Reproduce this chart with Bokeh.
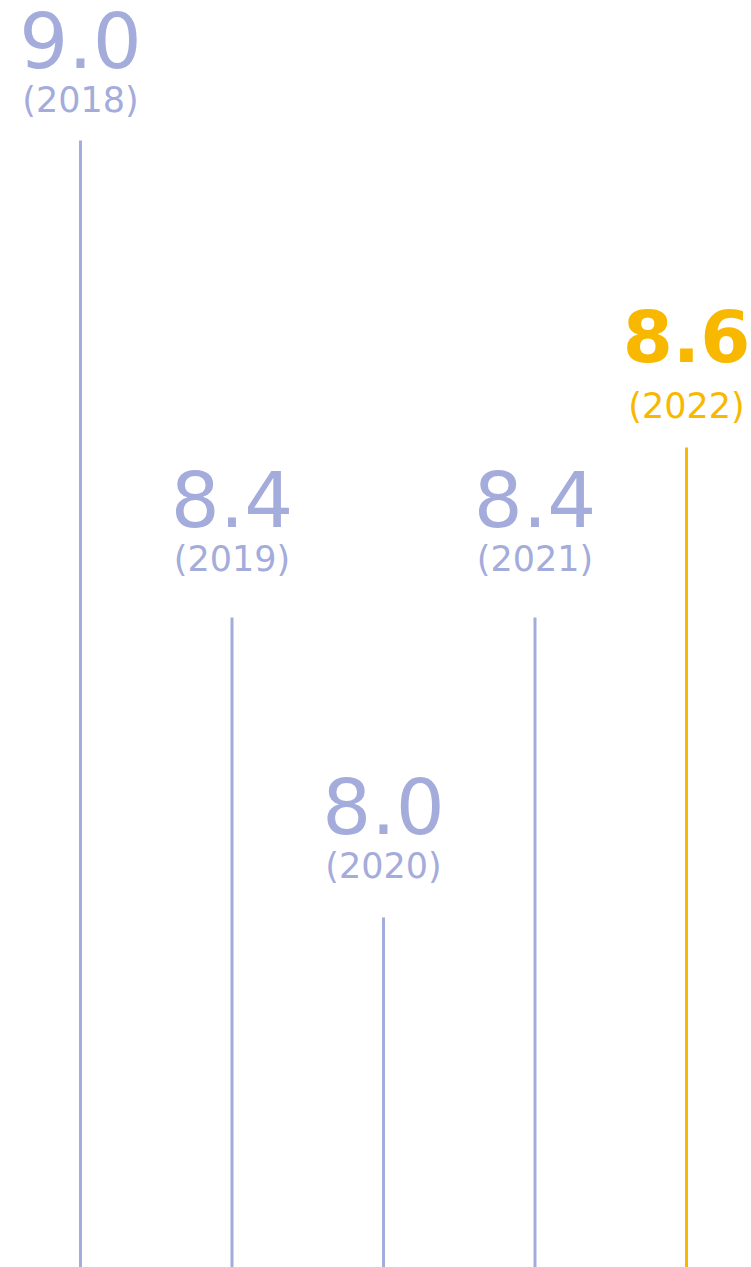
from bokeh.plotting import figure
from bokeh.models import ColumnDataSource, Range1d
from bokeh.core.properties import value
from bokeh.embed import file_html
from bokeh.resources import INLINE

years = ["2018", "2019", "2020", "2021", "2022"]
values = [9.0, 8.3765, 7.9843, 8.3765, 8.5987]
highlight = [False, False, False, False, True]

W, H = 751, 1267
idx = list(range(len(years)))
src = ColumnDataSource(dict(
    x=idx,
    y=values,
    base=[7.4] * len(values),
    ylab=[round(v, 1) for v in values],
    val=[f"{v:.1f}" for v in values],
    yr=[f"({y})" for y in years],
    color=["#f9b800" if h else "#a4acdb" for h in highlight],
    style=["bold" if h else "normal" for h in highlight],
    size=["72px" if h else "77px" for h in highlight],
    yoff=[-111 if h else -100 for h in highlight],
))

p = figure(width=W, height=H, output_backend="svg", toolbar_location=None,
           x_range=Range1d(-0.528, 4.429), y_range=Range1d(7.5268, 9.1830),
           min_border=0, outline_line_color=None)
p.axis.visible = False
p.grid.visible = False
p.background_fill_color = "white"
p.border_fill_color = "white"

p.segment(x0="x", y0="base", x1="x", y1="y", source=src, line_color="color", line_width=3)

p.text(x="x", y="ylab", text="yr", source=src, text_color="color",
       text_font=value("DejaVu Sans"), text_font_size="35px",
       text_align="center", text_baseline="alphabetic", y_offset=-40)

p.text(x="x", y="ylab", text="val", source=src, text_color="color",
       text_font=value("DejaVu Sans"), text_font_size="size", text_font_style="style",
       text_align="center", text_baseline="alphabetic", y_offset="yoff")

open("out.html", "w").write(file_html(p, INLINE))
